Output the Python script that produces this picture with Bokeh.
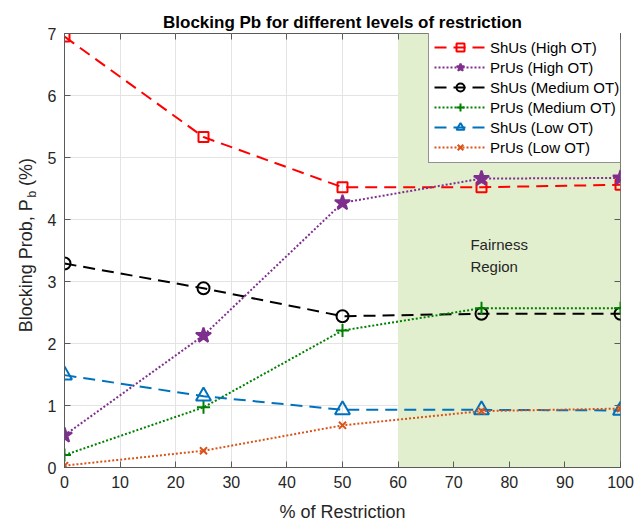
import numpy as np
from bokeh.plotting import figure
from bokeh.layouts import row
from bokeh.models import (Range1d, LinearAxis, Label, Legend, LegendItem, FixedTicker,
                          CustomJSTickFormatter)
from bokeh.embed import file_html
from bokeh.resources import INLINE

# ---- data ----
restriction = [0, 25, 50, 75, 100]
shus_high = [6.95, 5.33, 4.52, 4.52, 4.56]
prus_high = [0.52, 2.13, 4.27, 4.66, 4.67]
shus_med = [3.29, 2.89, 2.44, 2.48, 2.48]
prus_med = [0.20, 0.97, 2.21, 2.57, 2.57]
shus_low = [1.49, 1.15, 0.93, 0.93, 0.92]
prus_low = [0.03, 0.27, 0.68, 0.91, 0.95]
labels = ["ShUs (High OT)", "PrUs (High OT)", "ShUs (Medium OT)",
          "PrUs (Medium OT)", "ShUs (Low OT)", "PrUs (Low OT)"]
x_ticks = [0, 10, 20, 30, 40, 50, 60, 70, 80, 90, 100]
y_ticks = [0, 1, 2, 3, 4, 5, 6, 7]
fair_left, fair_right = 60, 100

FONT = "Liberation Sans"
AX = "#5a5a5a"
TXT = "#262626"
YLW = 44  # width of the y-label panel

p = figure(width=644 - YLW, height=524, output_backend="svg", toolbar_location=None,
           x_range=Range1d(0, 100), y_range=Range1d(0, 7),
           min_border_left=63 - YLW, min_border_right=24, min_border_top=33,
           min_border_bottom=57)
p.background_fill_color = "white"
p.border_fill_color = "white"
p.outline_line_color = AX
p.outline_line_width = 1

p.title.text = "Blocking Pb for different levels of restriction"
p.title.text_font = FONT
p.title.text_font_size = "17px"
p.title.text_font_style = "bold"
p.title.text_color = "#000000"
p.title.align = "center"
p.title.standoff = 4

for ax, ticks in ((p.xaxis[0], x_ticks), (p.yaxis[0], y_ticks)):
    ax.ticker = FixedTicker(ticks=ticks)
    ax.major_tick_in = 6
    ax.major_tick_out = 0
    ax.minor_tick_in = 0
    ax.minor_tick_out = 0
    ax.axis_line_color = AX
    ax.major_tick_line_color = AX
    ax.major_label_text_font = FONT
    ax.major_label_text_font_size = "16px"
    ax.major_label_text_color = TXT
    ax.major_label_standoff = 8

p.xaxis.axis_label = "% of Restriction"
p.xaxis.axis_label_text_font = FONT
p.xaxis.axis_label_text_font_size = "18px"
p.xaxis.axis_label_text_font_style = "normal"
p.xaxis.axis_label_text_color = TXT
p.xaxis.axis_label_standoff = 11

blank = CustomJSTickFormatter(code="return ''")
for loc, ticks in (("above", x_ticks), ("right", y_ticks)):
    ax = LinearAxis(ticker=FixedTicker(ticks=ticks), major_tick_in=6, major_tick_out=0,
                    minor_tick_in=0, minor_tick_out=0, axis_line_color=None,
                    major_tick_line_color=AX, formatter=blank,
                    major_label_standoff=0)
    p.add_layout(ax, loc)

p.xgrid.ticker = FixedTicker(ticks=x_ticks)
p.ygrid.ticker = FixedTicker(ticks=y_ticks)
p.grid.grid_line_color = "#e3e3e3"
p.grid.grid_line_width = 1

# fairness region
p.quad(left=[fair_left], right=[fair_right], bottom=[0], top=[7],
       fill_color="#e2efcf", line_color=None)

series = [
    (shus_high, "#ff0000", "12 7", "square", 10, None),
    (prus_high, "#7e2f8e", "2 2", "star", 16, "#7e2f8e"),
    (shus_med, "#000000", "12 7", "circle", 12, None),
    (prus_med, "#008000", "2 2", "cross", 13, None),
    (shus_low, "#0072bd", "12 7", "triangle", 15, None),
    (prus_low, "#d95319", "2 2", "x", 10, None),
]
items = []
for (vals, col, dash, mk, sz, fill), lab in zip(series, labels):
    rl = p.line(restriction, vals, line_color=col, line_width=2, line_dash=dash)
    rs = p.scatter(restriction, vals, marker=mk, size=sz, line_color=col,
                   line_width=2, fill_color=fill)
    items.append(LegendItem(label=lab, renderers=[rl, rs]))

leg = Legend(items=items, location=(364, 304), glyph_width=52, glyph_height=20,
             label_height=20, spacing=0, padding=5, margin=0, label_standoff=4,
             label_text_font=FONT, label_text_font_size="15px",
             label_text_color="#000000", border_line_color="#262626",
             border_line_width=1, background_fill_color="white",
             background_fill_alpha=1.0)
p.add_layout(leg, "center")

# fairness text
for txt, yy in (("Fairness", 3.59), ("Region", 3.235)):
    p.add_layout(Label(x=73.0, y=yy, text=txt, text_font=FONT, text_font_size="15px",
                       text_color=TXT, text_baseline="alphabetic", text_align="left"))

# ---- y label panel (text with subscript) ----
yl = figure(width=YLW, height=524, output_backend="svg", toolbar_location=None,
            x_range=Range1d(0, YLW), y_range=Range1d(0, 524),
            x_axis_type=None, y_axis_type=None, min_border=0)
yl.outline_line_color = None
yl.background_fill_color = "white"
yl.border_fill_color = "white"
yl.grid.visible = False
yl.add_layout(Label(x=25, y=324, angle=np.pi / 2, text="Blocking Prob, P",
                    text_font=FONT, text_font_size="18px", text_color=TXT,
                    text_align="right", text_baseline="alphabetic"))
yl.add_layout(Label(x=31, y=326, angle=np.pi / 2, text="b",
                    text_font=FONT, text_font_size="12px", text_color=TXT,
                    text_align="left", text_baseline="alphabetic"))
yl.add_layout(Label(x=25, y=340, angle=np.pi / 2, text="(%)",
                    text_font=FONT, text_font_size="18px", text_color=TXT,
                    text_align="left", text_baseline="alphabetic"))

layout = row(yl, p)
open("out.html", "w").write(file_html(layout, INLINE))
